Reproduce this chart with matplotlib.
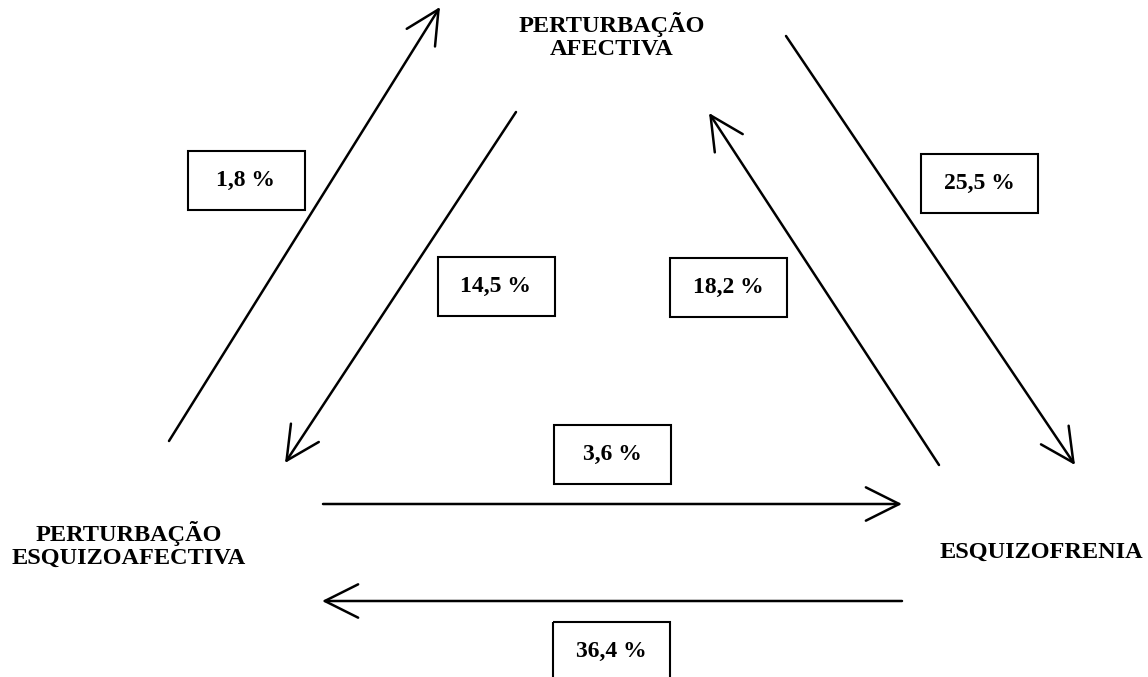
import matplotlib
matplotlib.use("Agg")
import matplotlib.pyplot as plt

# Data
nodes = ["PERTURBAÇÃO\nAFECTIVA", "PERTURBAÇÃO\nESQUIZOAFECTIVA", "ESQUIZOFRENIA"]
percent_labels = ["1,8 %", "14,5 %", "18,2 %", "25,5 %", "3,6 %", "36,4 %"]

# Layout (pixel coordinates of the diagram)
node_pos = [(612, 36), (129, 545), (1041, 552)]
arrows = [((169, 441), (440, 7)),
          ((516, 112), (285, 463)),
          ((939, 465), (709, 113)),
          ((786, 36), (1075, 465)),
          ((323, 504), (902, 504)),
          ((902, 601), (322, 601))]
box_pos = [(246, 180), (496, 286), (728, 287), (979, 183), (612, 454), (611, 651)]
box_w, box_h = 117, 59

fig = plt.figure(figsize=(11.48, 6.77), dpi=100)
ax = fig.add_axes([0, 0, 1, 1])
ax.set_xlim(0, 1148)
ax.set_ylim(677, 0)
ax.axis("off")

label_font = dict(family="Liberation Serif", weight="bold", fontsize=17.5)
box_font = dict(family="Liberation Serif", weight="bold", fontsize=17)

for (x, y), t in zip(node_pos, nodes):
    ax.text(x, y, t, ha="center", va="center", linespacing=1.15, **label_font)

for (s, e) in arrows:
    ax.annotate("", xy=e, xytext=s,
                arrowprops=dict(arrowstyle="->,head_length=1.2,head_width=0.6",
                                lw=1.8, color="black", mutation_scale=20,
                                shrinkA=0, shrinkB=0))

for (x, y), t in zip(box_pos, percent_labels):
    ax.add_patch(plt.Rectangle((x - box_w / 2, y - box_h / 2), box_w, box_h,
                               fill=False, edgecolor="black", lw=1.5))
    ax.text(x, y, t, ha="center", va="center", **box_font)

fig.savefig("out.png", dpi=100)
